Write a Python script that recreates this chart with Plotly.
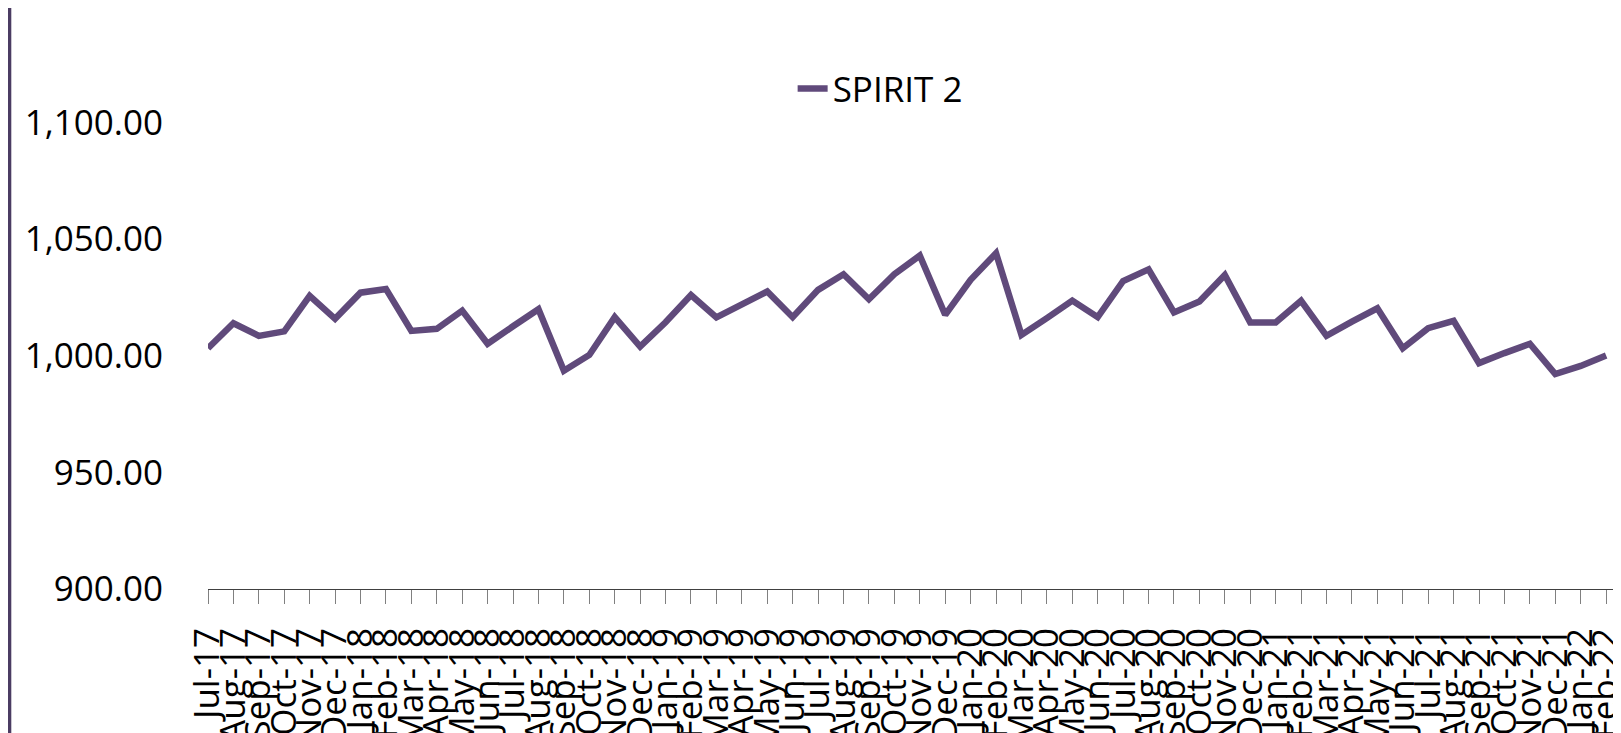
import plotly.graph_objects as go

months = ["Jul-17","Aug-17","Sep-17","Oct-17","Nov-17","Dec-17",
          "Jan-18","Feb-18","Mar-18","Apr-18","May-18","Jun-18","Jul-18","Aug-18","Sep-18","Oct-18","Nov-18","Dec-18",
          "Jan-19","Feb-19","Mar-19","Apr-19","May-19","Jun-19","Jul-19","Aug-19","Sep-19","Oct-19","Nov-19","Dec-19",
          "Jan-20","Feb-20","Mar-20","Apr-20","May-20","Jun-20","Jul-20","Aug-20","Sep-20","Oct-20","Nov-20","Dec-20",
          "Jan-21","Feb-21","Mar-21","Apr-21","May-21","Jun-21","Jul-21","Aug-21","Sep-21","Oct-21","Nov-21","Dec-21",
          "Jan-22","Feb-22"]

spirit2 = [1003.2, 1013.9, 1008.5, 1010.4, 1025.6, 1015.8,
           1027.0, 1028.6, 1010.6, 1011.5, 1019.3, 1005.1, 1012.6, 1019.9, 993.5, 1000.3, 1016.5, 1003.9,
           1014.3, 1026.0, 1016.4, 1022.0, 1027.5, 1016.5, 1028.2, 1034.9, 1024.2, 1034.9, 1042.9, 1017.5,
           1032.5, 1043.9, 1008.9, 1016.1, 1023.6, 1016.5, 1032.0, 1037.0, 1018.5, 1023.2, 1034.6, 1014.2,
           1014.2, 1023.5, 1008.5, 1014.6, 1020.3, 1003.2, 1011.8, 1014.9, 996.8, 1001.1, 1005.1, 992.1,
           995.6, 1000.1]

y_ticks = [900, 950, 1000, 1050, 1100]

idx = list(range(len(months)))

fig = go.Figure()
fig.add_trace(go.Scatter(
    x=idx, y=spirit2, mode="lines", name="SPIRIT 2",
    line=dict(color="#604A7B", width=6.5),
))

L, T, B = 200, 0, 152
plot_w = 1621 - L
plot_h = 733 - T - B

fig.update_layout(
    width=1621, height=733,
    margin=dict(l=L, r=0, t=T, b=B, pad=0, autoexpand=False),
    paper_bgcolor="white", plot_bgcolor="white",
    font=dict(family="Open Sans", size=35, color="black"),
    showlegend=True,
    legend=dict(orientation="h", x=0.473, xanchor="center", y=0.861, yanchor="middle",
                font=dict(size=35), bgcolor="rgba(0,0,0,0)"),
    xaxis=dict(
        range=[0, 55.9], tickmode="array", tickvals=idx, ticktext=months,
        tickangle=-90, ticks="outside", ticklen=14, tickcolor="#808080", tickwidth=1,
        showline=True, linecolor="#404040", linewidth=1, showgrid=False, zeroline=False,
        tickfont=dict(size=35), ticklabelstandoff=10, automargin=False,
    ),
    yaxis=dict(
        range=[900, 1149], tickmode="array", tickvals=y_ticks,
        ticktext=[f"{v:,.2f}" for v in y_ticks],
        showline=False, showgrid=False, zeroline=False, ticks="",
        ticklabelstandoff=44, tickfont=dict(size=35), automargin=False,
    ),
    shapes=[dict(type="line", xref="paper", yref="paper",
                 x0=(1.3 - L) / plot_w, x1=(1.3 - L) / plot_w,
                 y0=-B / plot_h - 0.05, y1=(plot_h + T) / plot_h + 0.05,
                 line=dict(color="#4B3C63", width=4))],
)

fig.write_html("out.html")
